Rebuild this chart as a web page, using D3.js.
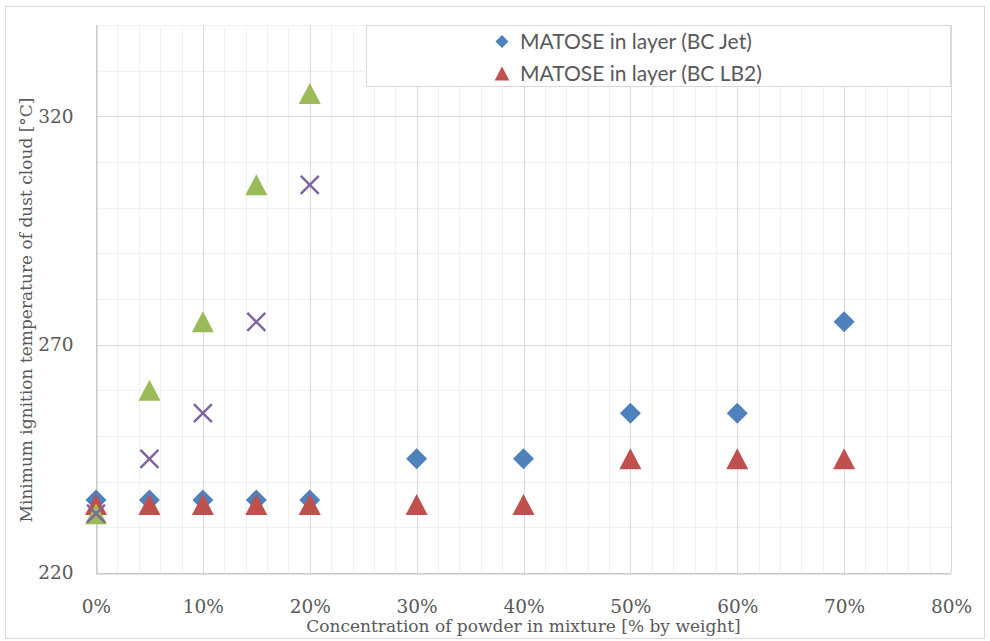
<!DOCTYPE html>
<html>
<head>
<meta charset="utf-8">
<script src="https://cdn.jsdelivr.net/npm/d3@7"></script>
<style>
  html, body { margin: 0; padding: 0; background: #ffffff; }
  svg { display: block; }
</style>
</head>
<body>
<svg id="chart" width="990" height="641"></svg>
<script>
// ---- data ----
const concentration = [0, 0.05, 0.10, 0.15, 0.20, 0.30, 0.40, 0.50, 0.60, 0.70];
const bcJet = [236, 236, 236, 236, 236, 245, 245, 255, 255, 275];
const bcLB2 = [235, 235, 235, 235, 235, 235, 235, 245, 245, 245];
const concentrationLow = [0, 0.05, 0.10, 0.15, 0.20];
const greenSeries = [233, 260, 275, 305, 325];
const purpleSeries = [233, 245, 255, 275, 305];
const legendLabels = ["MATOSE in layer (BC Jet)", "MATOSE in layer (BC LB2)"];
const xTickValues = [0, 0.1, 0.2, 0.3, 0.4, 0.5, 0.6, 0.7, 0.8];
const yTickValues = [220, 270, 320];
const yMinorValues = [220, 230, 240, 250, 260, 270, 280, 290, 300, 310, 320, 330, 340];
const xTitle = "Concentration of powder in mixture [% by weight]";
const yTitle = "Minimum ignition temperature of dust cloud [°C]";

const svg = d3.select("#chart");
const plot = { left: 96, right: 951, top: 25, bottom: 573 };

const x = d3.scaleLinear().domain([0, 0.8]).range([plot.left, plot.right]);
const y = d3.scaleLinear().domain([220, 340]).range([plot.bottom, plot.top]);

// outer chart border
svg.append("rect")
  .attr("x", 5.5).attr("y", 6.5).attr("width", 979).attr("height", 632)
  .attr("fill", "#ffffff").attr("stroke", "#d9d9d9").attr("stroke-width", 1);

const grid = svg.append("g");
grid.selectAll(".vminor").data(x.ticks(40)).join("line")
  .attr("x1", d => Math.round(x(d)) + 0.5).attr("x2", d => Math.round(x(d)) + 0.5)
  .attr("y1", plot.top).attr("y2", plot.bottom)
  .attr("stroke", "#f0f0f0").attr("stroke-width", 1);
grid.selectAll(".hminor").data(yMinorValues).join("line")
  .attr("x1", plot.left).attr("x2", plot.right)
  .attr("y1", d => Math.round(y(d)) + 0.5).attr("y2", d => Math.round(y(d)) + 0.5)
  .attr("stroke", "#f0f0f0").attr("stroke-width", 1);
grid.selectAll(".vmajor").data(xTickValues).join("line")
  .attr("x1", d => Math.round(x(d)) + 0.5).attr("x2", d => Math.round(x(d)) + 0.5)
  .attr("y1", plot.top).attr("y2", plot.bottom)
  .attr("stroke", "#d9d9d9").attr("stroke-width", 1);
grid.selectAll(".hmajor").data(yTickValues).join("line")
  .attr("x1", plot.left).attr("x2", plot.right)
  .attr("y1", d => Math.round(y(d)) + 0.5).attr("y2", d => Math.round(y(d)) + 0.5)
  .attr("stroke", "#d9d9d9").attr("stroke-width", 1);

// axes
const tickFont = "'DejaVu Serif', serif";
const xAxis = svg.append("g")
  .attr("transform", `translate(0,${plot.bottom + 0.5})`)
  .call(d3.axisBottom(x).tickValues(xTickValues).tickFormat(d3.format(".0%"))
    .tickSize(0).tickSizeOuter(0).tickPadding(26));
const yAxis = svg.append("g")
  .attr("transform", `translate(${plot.left + 0.5},0)`)
  .call(d3.axisLeft(y).tickValues(yTickValues).tickFormat(d3.format("d"))
    .tickSize(0).tickSizeOuter(0).tickPadding(23));
[xAxis, yAxis].forEach(a => {
  a.select(".domain").attr("stroke", "#bfbfbf").attr("stroke-width", 1);
  a.selectAll("text").attr("font-family", tickFont).attr("font-size", 18.5).attr("fill", "#595959");
});

// symbols
const diamond = {
  draw(ctx, size) {
    const r = Math.sqrt(size) / 2;
    ctx.moveTo(0, -r); ctx.lineTo(r, 0); ctx.lineTo(0, r); ctx.lineTo(-r, 0); ctx.closePath();
  }
};
const triangle = {
  draw(ctx, size) {
    const r = Math.sqrt(size) / 2;
    ctx.moveTo(0, -r); ctx.lineTo(r * 1.05, r); ctx.lineTo(-r * 1.05, r); ctx.closePath();
  }
};
const cross = {
  draw(ctx, size) {
    const r = Math.sqrt(size) / 2;
    ctx.moveTo(-r, -r); ctx.lineTo(r, r); ctx.moveTo(r, -r); ctx.lineTo(-r, r);
  }
};

const marks = svg.append("g");
const jetData = concentration.map((c, i) => ({ c, v: bcJet[i] }));
const lb2Data = concentration.map((c, i) => ({ c, v: bcLB2[i] }));
const greenData = concentrationLow.map((c, i) => ({ c, v: greenSeries[i] }));
const purpleData = concentrationLow.map((c, i) => ({ c, v: purpleSeries[i] }));

marks.selectAll(".jet").data(jetData).join("path")
  .attr("transform", d => `translate(${x(d.c)},${y(d.v)})`)
  .attr("d", d3.symbol(diamond, 21 * 21)).attr("fill", "#4f81bd");
marks.selectAll(".lb2").data(lb2Data).join("path")
  .attr("transform", d => `translate(${x(d.c)},${y(d.v)})`)
  .attr("d", d3.symbol(triangle, 21 * 21)).attr("fill", "#c0504d");
marks.selectAll(".green").data(greenData).join("path")
  .attr("transform", d => `translate(${x(d.c)},${y(d.v)})`)
  .attr("d", d3.symbol(triangle, 21 * 21)).attr("fill", "#9bbb59");
marks.selectAll(".purple").data(purpleData).join("path")
  .attr("transform", d => `translate(${x(d.c)},${y(d.v)})`)
  .attr("d", d3.symbol(cross, 18 * 18)).attr("fill", "none")
  .attr("stroke", "#8064a2").attr("stroke-width", 2.4);

// legend
const legend = svg.append("g");
legend.append("rect")
  .attr("x", 366.5).attr("y", 25.5).attr("width", 584).attr("height", 61)
  .attr("fill", "#ffffff").attr("stroke", "#d9d9d9").attr("stroke-width", 1);
const legendSymbols = [
  { type: diamond, size: 13 * 13, color: "#4f81bd" },
  { type: triangle, size: 14 * 14, color: "#c0504d" }
];
const legendRowY = [41.5, 73.5];
legendLabels.forEach((lab, i) => {
  legend.append("path")
    .attr("transform", `translate(502,${legendRowY[i]})`)
    .attr("d", d3.symbol(legendSymbols[i].type, legendSymbols[i].size))
    .attr("fill", legendSymbols[i].color);
  legend.append("text")
    .attr("x", 520).attr("y", legendRowY[i]).attr("dy", "0.36em")
    .attr("font-family", "Lato, 'Open Sans', sans-serif").attr("font-size", 21)
    .attr("fill", "#595959").text(lab);
});

// axis titles
svg.append("text")
  .attr("x", (plot.left + plot.right) / 2).attr("y", 632)
  .attr("text-anchor", "middle")
  .attr("font-family", tickFont).attr("font-size", 17)
  .attr("fill", "#595959").text(xTitle);
svg.append("text")
  .attr("transform", "translate(32,310) rotate(-90)")
  .attr("text-anchor", "middle")
  .attr("font-family", tickFont).attr("font-size", 17)
  .attr("fill", "#595959").text(yTitle);
</script>
</body>
</html>
